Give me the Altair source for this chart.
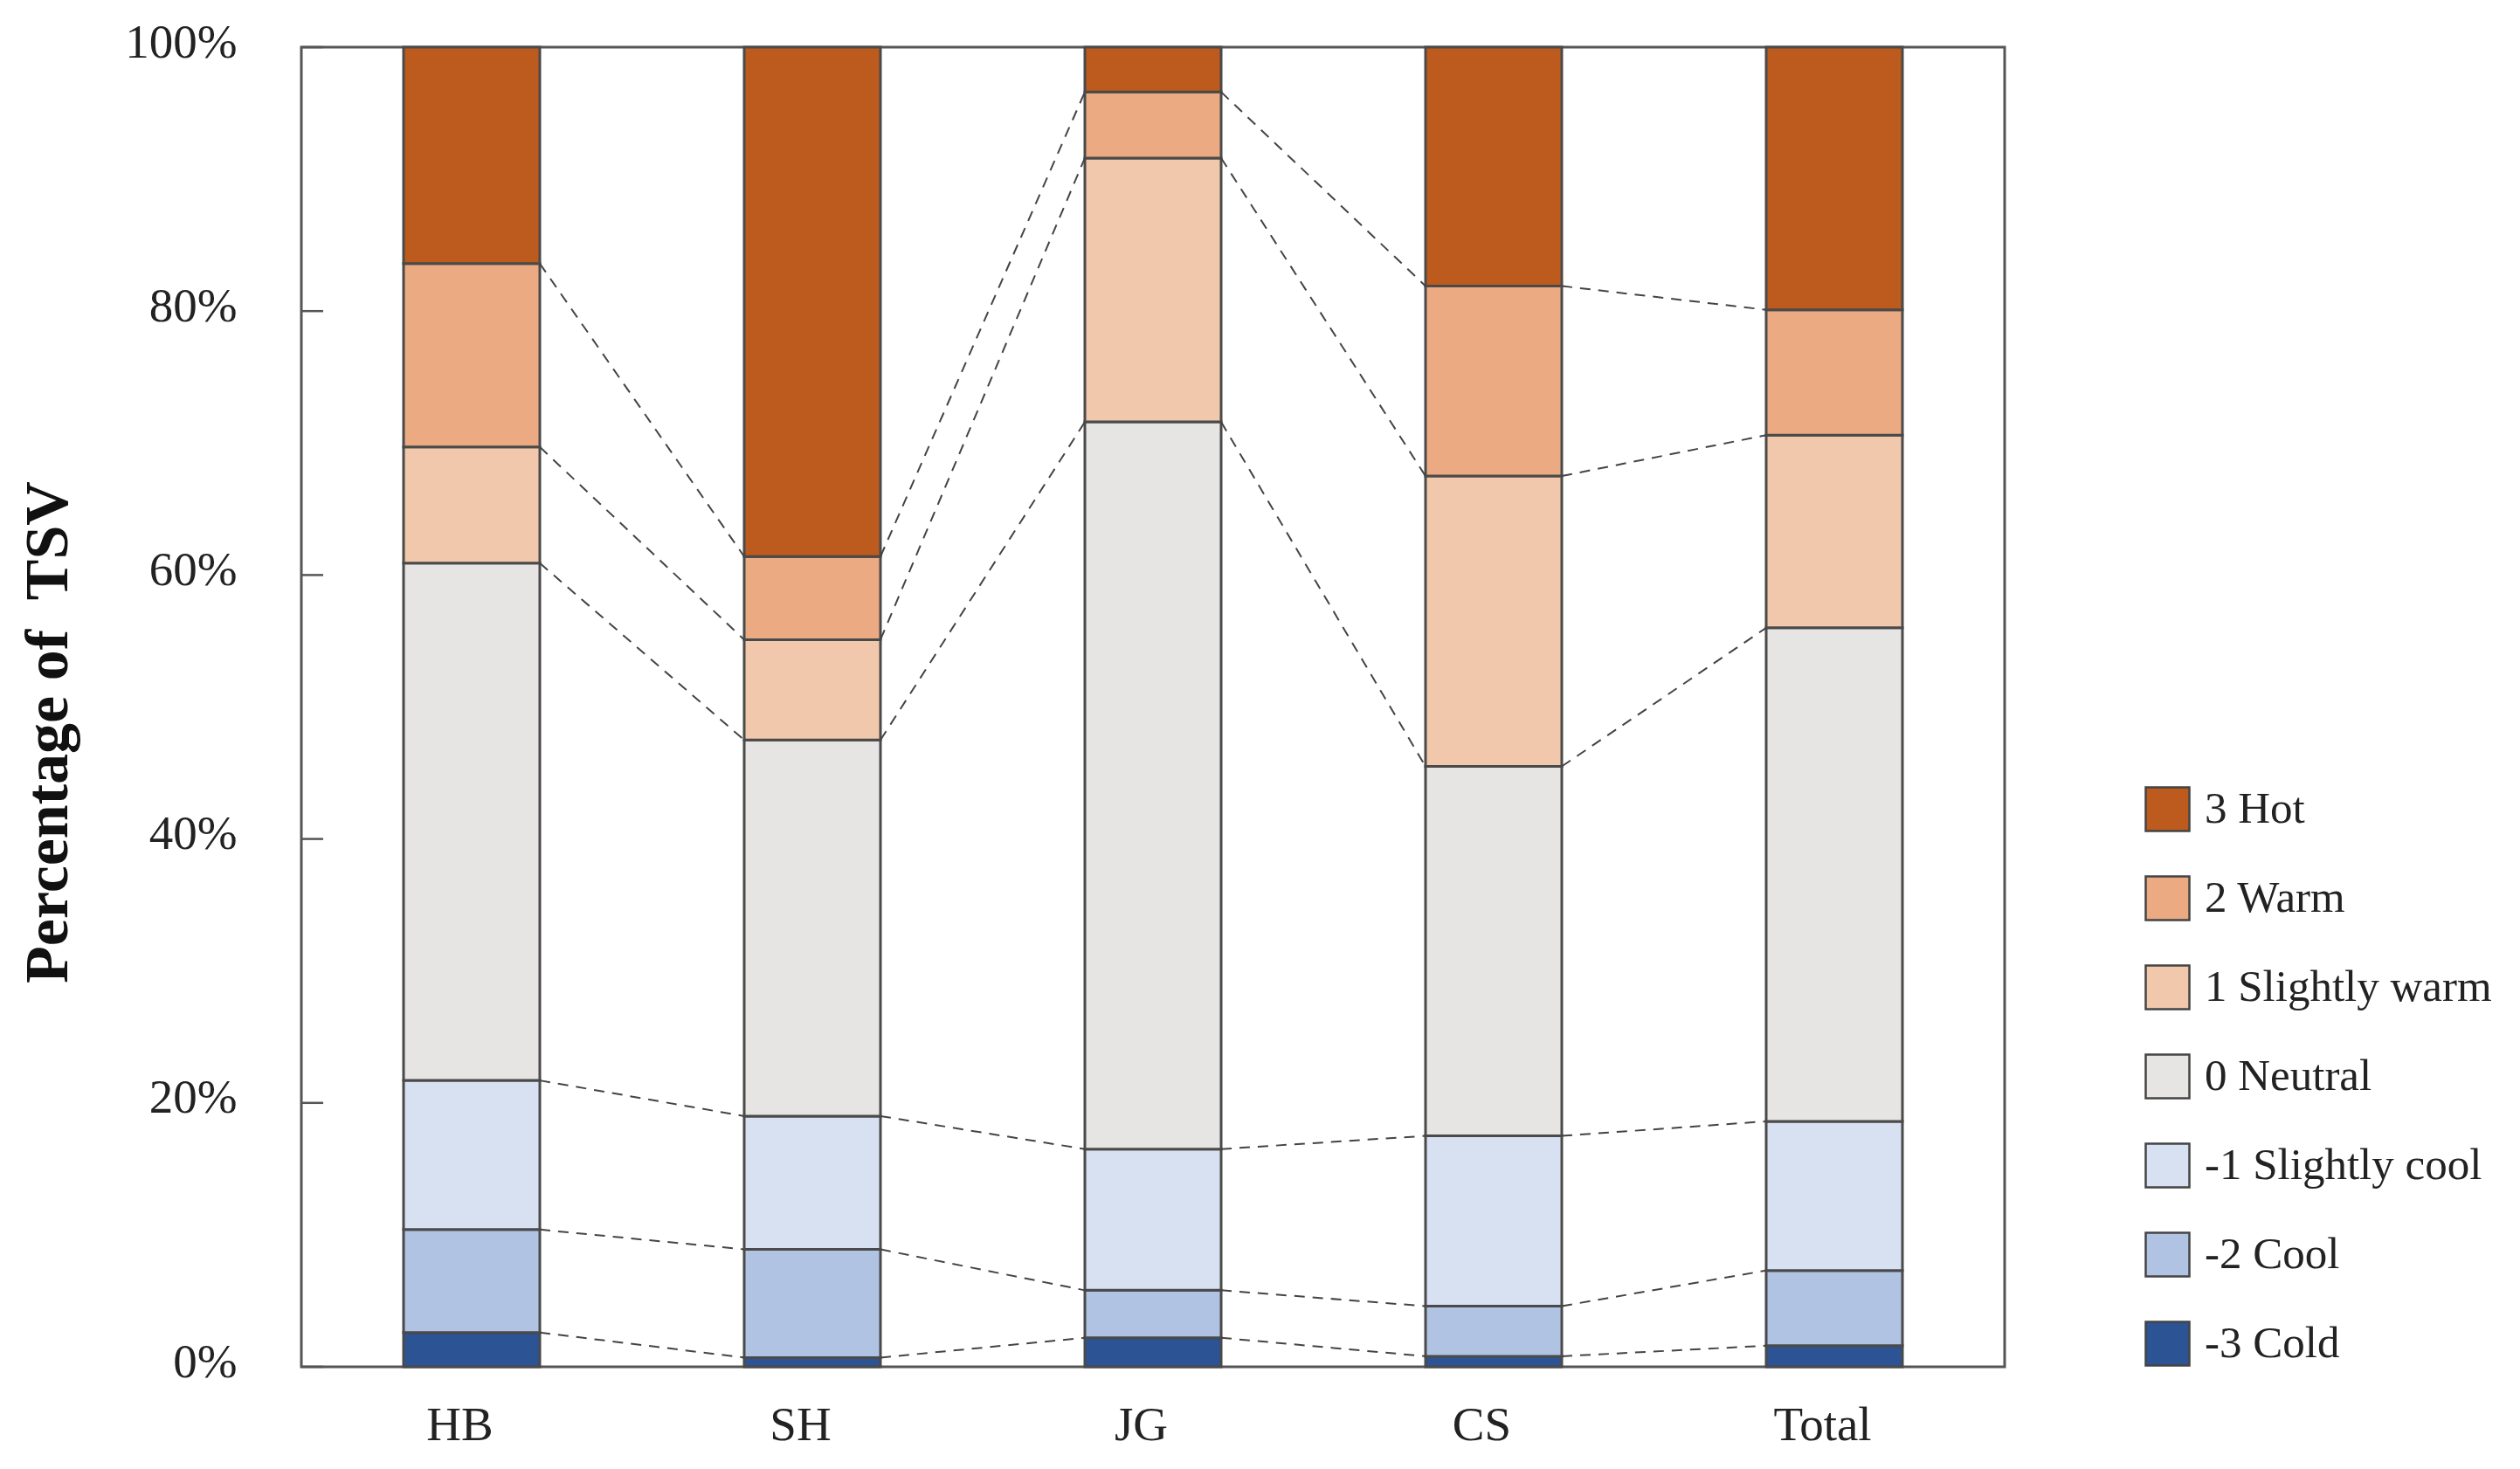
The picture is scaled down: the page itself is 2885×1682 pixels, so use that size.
import json
import altair as alt
import pandas as pd

# ---- data (percent of votes per TSV level, bottom to top) ----
sites = ["HB", "SH", "JG", "CS", "Total"]
levels = ["-3 Cold", "-2 Cool", "-1 Slightly cool", "0 Neutral",
          "1 Slightly warm", "2 Warm", "3 Hot"]
hb = [2.6, 7.8, 11.3, 39.2, 8.8, 13.9, 16.4]
sh = [0.7, 8.2, 10.1, 28.5, 7.6, 6.3, 38.6]
jg = [2.2, 3.6, 10.7, 55.1, 20.0, 5.0, 3.4]
cs = [0.8, 3.8, 12.9, 28.0, 22.0, 14.4, 18.1]
total = [1.6, 5.7, 11.3, 37.4, 14.6, 9.5, 19.9]
series = [hb, sh, jg, cs, total]
colors = ["#2C5394", "#B0C3E3", "#D8E1F1", "#E6E5E3",
          "#F1C8AB", "#EBAA82", "#BD5A1E"]
y_ticks = [0, 20, 40, 60, 80, 100]

HALF = 0.2  # half bar width in band units
FONT = "Liberation Serif"

rows = []
cums = []
for i, (site, vals) in enumerate(zip(sites, series)):
    cum = 0.0
    c = []
    for k, v in enumerate(vals):
        rows.append({"site": site, "level": levels[k], "lo": cum, "hi": cum + v,
                     "xl": i - HALF, "xr": i + HALF})
        cum += v
        c.append(cum)
    cums.append(c)
bars_df = pd.DataFrame(rows)

links = []
for i in range(len(sites) - 1):
    for k in range(len(levels) - 1):
        links.append({"x1": i + HALF, "x2": i + 1 - HALF,
                      "y1": cums[i][k], "y2": cums[i + 1][k]})
links_df = pd.DataFrame(links)

xaxis = alt.Axis(values=list(range(len(sites))),
                 labelExpr=json.dumps(sites) + "[datum.value]",
                 title=None, grid=False, ticks=False, tickSize=0, domain=False,
                 labelFont=FONT, labelFontSize=55, labelColor="#222",
                 labelPadding=40, labelOffset=-14)
yaxis = alt.Axis(values=y_ticks, labelExpr="datum.value + '%'",
                 title="Percentage of\u00a0 TSV", grid=False, ticks=False,
                 tickSize=0, domain=False,
                 labelFont=FONT, labelFontSize=55, labelColor="#222",
                 labelPadding=74, labelOffset=-6,
                 titleFont=FONT, titleFontSize=70, titleFontWeight="bold",
                 titleColor="#111", titleAngle=-90, titleX=-290, titleY=784,
                 titleAlign="center", titleBaseline="middle")
xscale = alt.Scale(domain=[-0.5, len(sites) - 0.5], nice=False, zero=False)
yscale = alt.Scale(domain=[0, 100], nice=False)

bars = alt.Chart(bars_df).mark_bar(stroke="#4a4a4a", strokeWidth=3).encode(
    x=alt.X("xl:Q", scale=xscale, axis=xaxis),
    x2="xr:Q",
    y=alt.Y("lo:Q", scale=yscale, axis=yaxis),
    y2="hi:Q",
    color=alt.Color("level:N",
                    scale=alt.Scale(domain=levels[::-1], range=colors[::-1]),
                    legend=alt.Legend(title=None, orient="none",
                                      legendX=2110, legendY=846,
                                      symbolType="square", symbolSize=2500,
                                      symbolStrokeColor="#444",
                                      symbolStrokeWidth=2.5,
                                      labelFont=FONT, labelFontSize=51,
                                      labelColor="#222", labelLimit=1000,
                                      labelOffset=16, rowPadding=41)),
)

lines = alt.Chart(links_df).mark_rule(strokeDash=[12, 9], color="#444",
                                      strokeWidth=2).encode(
    x=alt.X("x1:Q", scale=xscale, axis=xaxis),
    x2="x2:Q",
    y=alt.Y("y1:Q", scale=yscale, axis=yaxis),
    y2="y2:Q",
)

ticks = alt.Chart(pd.DataFrame({"t": y_ticks})).mark_rule(
    color="#555", strokeWidth=2.5).encode(
    y=alt.Y("t:Q", scale=yscale, axis=yaxis),
    x=alt.value(0), x2=alt.value(25),
)

chart = alt.layer(bars, lines, ticks).properties(
    width=1950, height=1511,
    autosize=alt.AutoSizeParams(type="none"),
    padding={"left": 337, "top": 46, "right": 578, "bottom": 100},
).configure_view(stroke="#555", strokeWidth=3)

chart.save("out.html", embed_options={"renderer": "svg", "actions": False})
